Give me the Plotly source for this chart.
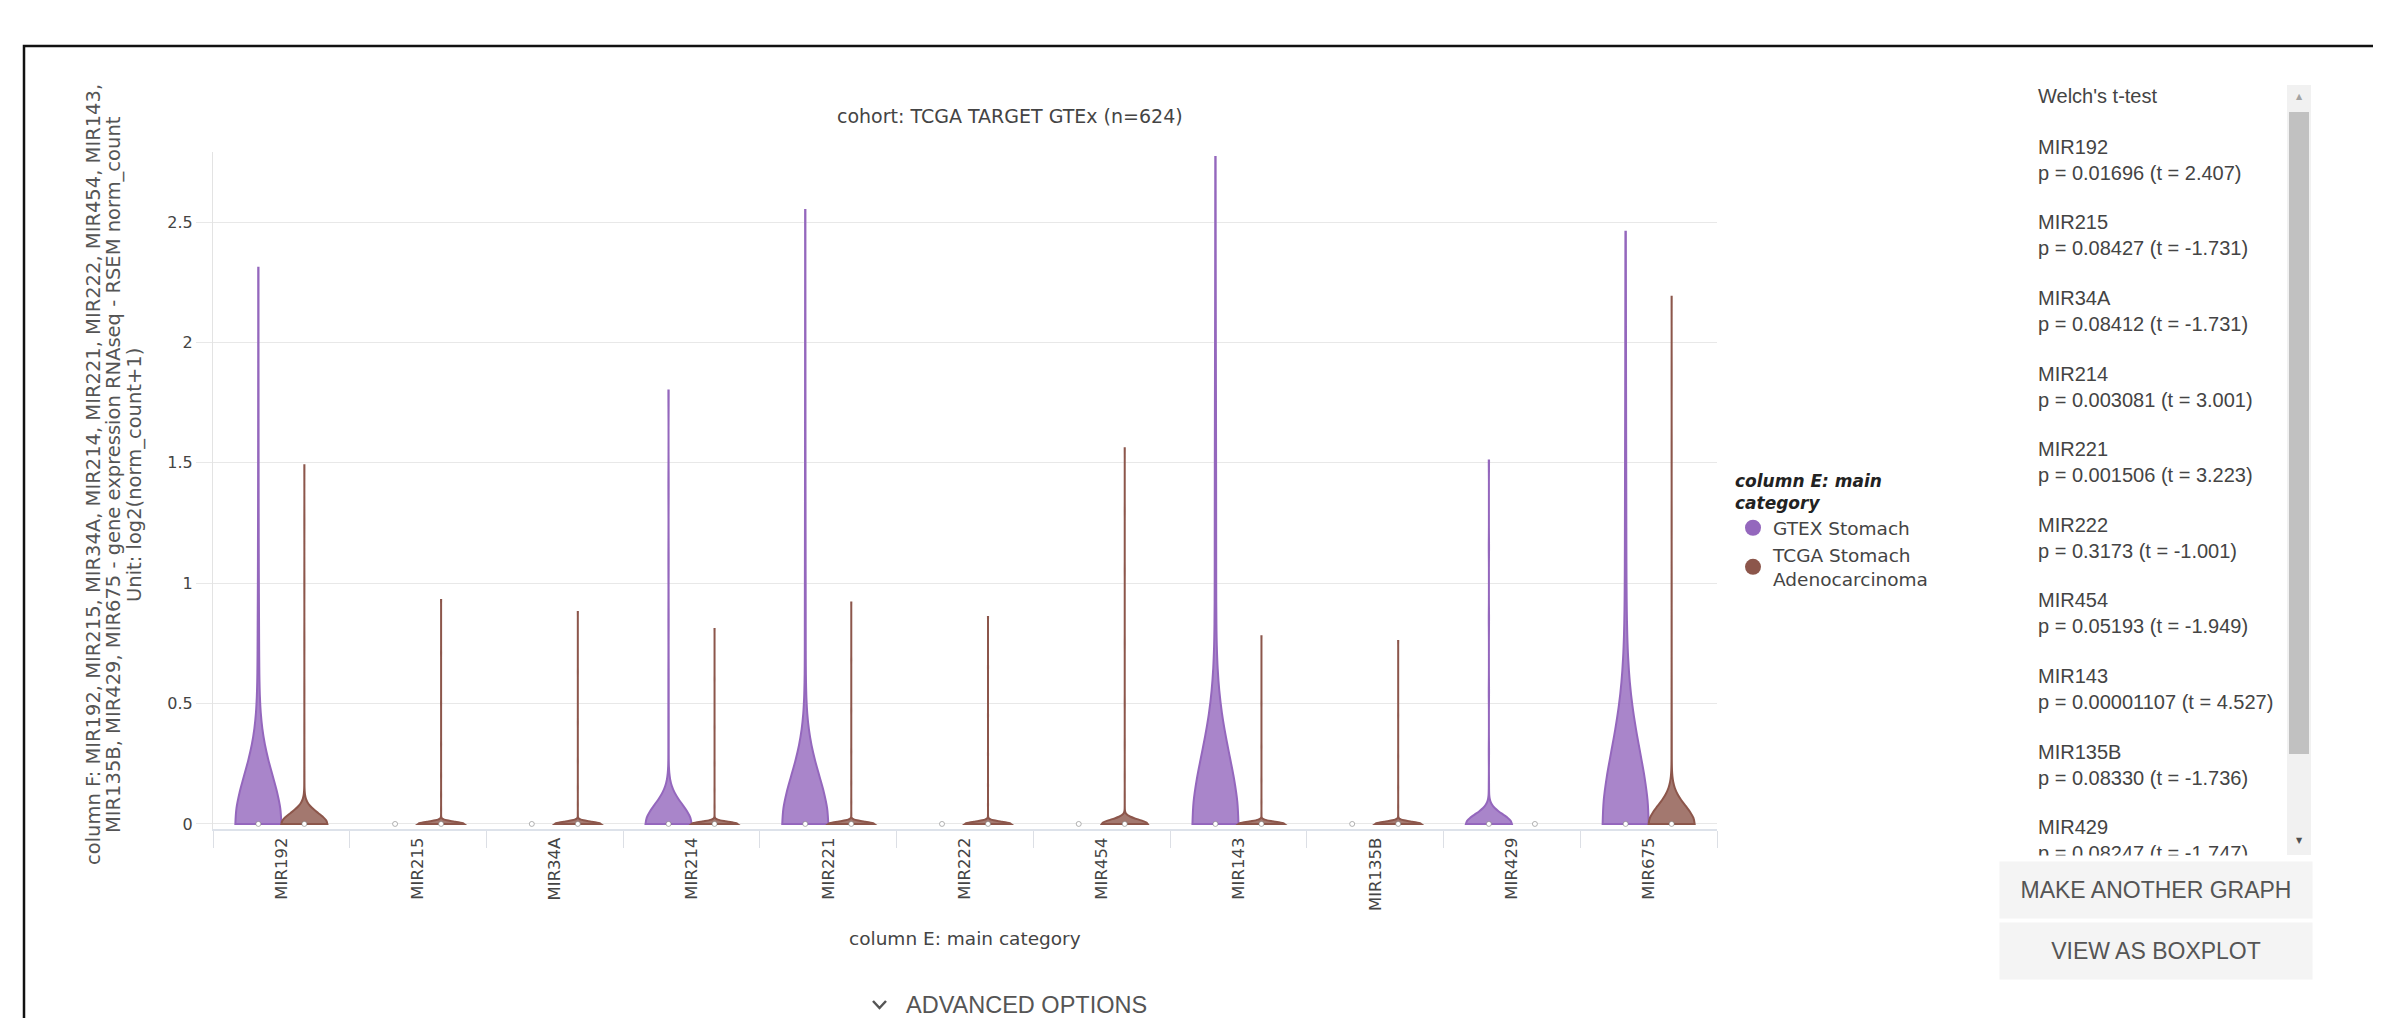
import numpy as np
import plotly.graph_objects as go

# page size and the browser's default body margin
W, H = 2381, 1026
PAD = 8
FW, FH = W - 2 * PAD, H - 2 * PAD

# ---------------- data ----------------
GENES = ["MIR192", "MIR215", "MIR34A", "MIR214", "MIR221", "MIR222",
         "MIR454", "MIR143", "MIR135B", "MIR429", "MIR675"]
GTEX_NAME = "GTEX Stomach"
TCGA_NAME = "TCGA Stomach Adenocarcinoma"

# number of samples at exactly 0 per gene
GTEX_ZEROS = [160, 174, 174, 167, 164, 174, 174, 162, 174, 168, 160]
TCGA_ZEROS = [441, 442, 443, 443, 443, 443, 441, 444, 444, 450, 439]

# positive sample values per gene
GTEX_MIR192 = [0.25, 0.33, 0.4, 0.47, 0.55, 0.62, 0.7, 0.8, 0.9, 1.05, 1.25, 1.5, 1.85, 2.31]
GTEX_MIR215 = []
GTEX_MIR34A = []
GTEX_MIR214 = [0.3, 0.45, 0.62, 0.85, 1.1, 1.4, 1.8]
GTEX_MIR221 = [0.42, 0.55, 0.7, 0.85, 1.0, 1.2, 1.45, 1.75, 2.1, 2.55]
GTEX_MIR222 = []
GTEX_MIR454 = []
GTEX_MIR143 = [0.65, 0.78, 0.9, 1.02, 1.15, 1.3, 1.45, 1.6, 1.75, 2.0, 2.3, 2.77]
GTEX_MIR135B = []
GTEX_MIR429 = [0.15, 0.3, 0.55, 0.85, 1.15, 1.51]
GTEX_MIR675 = [0.35, 0.45, 0.55, 0.62, 0.7, 0.8, 0.95, 1.1, 1.25, 1.4, 1.55, 1.8, 2.1, 2.46]

TCGA_MIR192 = [0.15, 0.2, 0.28, 0.4, 0.55, 0.75, 1.0, 1.25, 1.49]
TCGA_MIR215 = [0.03, 0.06, 0.12, 0.2, 0.33, 0.5, 0.71, 0.93]
TCGA_MIR34A = [0.04, 0.08, 0.15, 0.26, 0.42, 0.63, 0.88]
TCGA_MIR214 = [0.03, 0.07, 0.14, 0.25, 0.4, 0.6, 0.81]
TCGA_MIR221 = [0.04, 0.09, 0.17, 0.3, 0.47, 0.68, 0.92]
TCGA_MIR222 = [0.03, 0.08, 0.16, 0.29, 0.45, 0.65, 0.86]
TCGA_MIR454 = [0.07, 0.12, 0.2, 0.33, 0.5, 0.75, 1.05, 1.3, 1.56]
TCGA_MIR143 = [0.04, 0.09, 0.18, 0.32, 0.5, 0.78]
TCGA_MIR135B = [0.03, 0.07, 0.15, 0.28, 0.45, 0.76]
TCGA_MIR429 = []
TCGA_MIR675 = [0.25, 0.3, 0.38, 0.47, 0.6, 0.8, 1.0, 1.25, 1.55, 1.85, 2.19]

GTEX_POSITIVE = [GTEX_MIR192, GTEX_MIR215, GTEX_MIR34A, GTEX_MIR214, GTEX_MIR221, GTEX_MIR222,
                 GTEX_MIR454, GTEX_MIR143, GTEX_MIR135B, GTEX_MIR429, GTEX_MIR675]
TCGA_POSITIVE = [TCGA_MIR192, TCGA_MIR215, TCGA_MIR34A, TCGA_MIR214, TCGA_MIR221, TCGA_MIR222,
                 TCGA_MIR454, TCGA_MIR143, TCGA_MIR135B, TCGA_MIR429, TCGA_MIR675]

# KDE bandwidth per violin (None = all values identical)
GTEX_BANDWIDTH = [0.2, None, None, 0.08, 0.2, None, None, 0.285, None, 0.04, 0.3]
TCGA_BANDWIDTH = [0.045, 0.009, 0.009, 0.009, 0.009, 0.009, 0.018, 0.009, 0.009, None, 0.075]

# Welch's t-test panel
WELCH_GENES = ["MIR192", "MIR215", "MIR34A", "MIR214", "MIR221", "MIR222",
               "MIR454", "MIR143", "MIR135B", "MIR429"]
WELCH_P = ["0.01696", "0.08427", "0.08412", "0.003081", "0.001506", "0.3173",
           "0.05193", "0.00001107", "0.08330", "0.08247"]
WELCH_T = ["2.407", "-1.731", "-1.731", "3.001", "3.223", "-1.001",
           "-1.949", "4.527", "-1.736", "-1.747"]

Y_TITLE_LINES = [
    "column F: MIR192, MIR215, MIR34A, MIR214, MIR221, MIR222, MIR454, MIR143,",
    "MIR135B, MIR429, MIR675 - gene expression RNAseq - RSEM norm_count",
    "Unit: log2(norm_count+1)",
]

# ---------------- styles ----------------
GTEX_COLOR = "#9467bd"
GTEX_FILL = "rgba(148,103,189,0.8)"
TCGA_COLOR = "#8c564b"
TCGA_FILL = "rgba(140,86,75,0.8)"
PLOT_FONT = "DejaVu Sans"
PANEL_FONT = "Liberation Sans"
VIOLIN_GAP = 0.327
OFFSET = 0.25 * (1 - VIOLIN_GAP)


def fx(p):
    return (p - PAD) / FW


def fy(p):
    return 1 - (p - PAD) / FH


def samples(zeros, positive):
    return np.concatenate([np.zeros(zeros), np.asarray(positive, dtype=float)])


fig = go.Figure()

groups = [
    (GTEX_NAME, GTEX_COLOR, GTEX_FILL, GTEX_ZEROS, GTEX_POSITIVE, GTEX_BANDWIDTH, -OFFSET),
    (TCGA_NAME, TCGA_COLOR, TCGA_FILL, TCGA_ZEROS, TCGA_POSITIVE, TCGA_BANDWIDTH, OFFSET),
]

for name, color, fill, zeros, positive, bws, off in groups:
    medians = []
    for gene, z, pos, bw in zip(GENES, zeros, positive, bws):
        y = samples(z, pos)
        medians.append(float(np.median(y)))
        degenerate = y.min() == y.max()
        kw = {} if bw is None else {"bandwidth": bw}
        fig.add_trace(go.Violin(
            x=[gene] * len(y), y=y, name=name, legendgroup=name, showlegend=False,
            offsetgroup=name, alignmentgroup="all", scalegroup=name + "|" + gene,
            scalemode="width", spanmode="hard", points=False,
            line=dict(color=color, width=0 if degenerate else 2),
            fillcolor=fill, hoverinfo="skip", **kw))
    # median markers
    fig.add_trace(go.Scatter(
        x=np.arange(len(GENES)) + off, y=medians, xaxis="x2", yaxis="y",
        mode="markers", showlegend=False, hoverinfo="skip",
        marker=dict(size=5, color="white", line=dict(color="rgba(120,120,120,0.55)", width=1))))

# legend entries (circle markers)
fig.add_trace(go.Scatter(x=[None], y=[None], xaxis="x2", mode="markers", name=GTEX_NAME,
                         legendgroup=GTEX_NAME, marker=dict(color=GTEX_COLOR, size=16)))
fig.add_trace(go.Scatter(x=[None], y=[None], xaxis="x2", mode="markers",
                         name="TCGA Stomach<br>Adenocarcinoma",
                         legendgroup=TCGA_NAME, marker=dict(color=TCGA_COLOR, size=16)))


def note(text, x, y, size, color="#444", family=PLOT_FONT, xanchor="center",
         yanchor="middle", **kw):
    d = dict(text=text, x=fx(x), y=fy(y), xref="paper", yref="paper", showarrow=False,
             xanchor=xanchor, yanchor=yanchor,
             font=dict(family=family, size=size, color=color))
    d.update(kw)
    return d


annotations = [
    note("cohort: TCGA TARGET GTEx (n=624)", 1010, 116, 19),
    note("column E: main category", 965, 938, 18.5),
]
for k, (line, xc) in enumerate(zip(Y_TITLE_LINES, [94, 114, 135])):
    annotations.append(note(line, xc, 475, 19.5, color="#555", textangle=-90))

# Welch panel
annotations.append(note("Welch's t-test", 2036, 96, 20, family=PANEL_FONT, xanchor="left"))
for i, (g, p, t) in enumerate(zip(WELCH_GENES, WELCH_P, WELCH_T)):
    yc = 147 + 75.6 * i + 12.9
    annotations.append(note(f"{g}<br>p = {p} (t = {t})", 2036, yc, 20, family=PANEL_FONT,
                            xanchor="left", align="left"))
# clip the list at the bottom of the panel
annotations.append(note(" ", 2020, 855, 4, xanchor="left", yanchor="top", width=265, height=16,
                        bgcolor="white", borderpad=0))
# scrollbar arrows
annotations.append(note("▲", 2299, 97, 8, color="#a3a3a3"))
annotations.append(note("▼", 2299, 840, 8, color="#505050"))
# buttons
for label, yc in [("MAKE ANOTHER GRAPH", 890), ("VIEW AS BOXPLOT", 950.5)]:
    annotations.append(note(label, 2156, yc, 23, color="#555", family=PANEL_FONT,
                            width=312, height=56, bgcolor="#f4f4f4", borderpad=0))
# advanced options
annotations.append(note("ADVANCED OPTIONS", 1026, 1005, 23.5, color="#555", family=PANEL_FONT))

shapes = [
    # page frame
    dict(type="rect", xref="paper", yref="paper", x0=fx(24), x1=fx(2440), y0=fy(46), y1=fy(1080),
         line=dict(color="#111", width=2.5), fillcolor="rgba(0,0,0,0)", layer="below"),
    # scrollbar
    dict(type="rect", xref="paper", yref="paper", x0=fx(2287), x1=fx(2311), y0=fy(85), y1=fy(855),
         line=dict(width=0), fillcolor="#f1f1f1"),
    dict(type="rect", xref="paper", yref="paper", x0=fx(2289), x1=fx(2309), y0=fy(112), y1=fy(754),
         line=dict(width=0), fillcolor="#c1c1c1"),
    # chevron
    dict(type="path", xref="paper", yref="paper",
         path=f"M {fx(873)} {fy(1001)} L {fx(879.5)} {fy(1008)} L {fx(886)} {fy(1001)}",
         line=dict(color="#555", width=2.5)),
]

fig.update_layout(
    width=FW, height=FH,
    margin=dict(l=0, r=0, t=0, b=0, autoexpand=False),
    paper_bgcolor="white", plot_bgcolor="white",
    font=dict(family=PLOT_FONT, color="#444"),
    violinmode="group", violingap=VIOLIN_GAP, violingroupgap=0,
    hovermode=False,
    showlegend=True,
    legend=dict(x=fx(1733), y=fy(465), xanchor="left", yanchor="top",
                title=dict(text="<b><i>column E: main<br>category</i></b>",
                           font=dict(family=PLOT_FONT, size=17, color="#222")),
                font=dict(family=PLOT_FONT, size=18.5, color="#444"),
                bgcolor="rgba(0,0,0,0)", itemsizing="trace", tracegroupgap=0),
    xaxis=dict(domain=[fx(213), fx(1717)], type="category", categoryorder="array",
               categoryarray=GENES, range=[-0.5, 10.5], tickson="boundaries",
               ticks="outside", ticklen=17, tickcolor="#dcdfe5", tickangle=-90,
               tickfont=dict(family=PLOT_FONT, size=16.5, color="#444"),
               showline=True, linecolor="#dde2ea", linewidth=2, showgrid=False,
               zeroline=False, anchor="y", fixedrange=True),
    xaxis2=dict(overlaying="x", range=[-0.5, 10.5], visible=False, anchor="y", fixedrange=True),
    yaxis=dict(domain=[fy(829), fy(152)], range=[-0.021, 2.791], dtick=0.5, tick0=0,
               showgrid=True, gridcolor="#e8e8e8", zeroline=True, zerolinecolor="#e8e8e8",
               zerolinewidth=1, showline=True, linecolor="#e3e3e3", ticks="outside",
               ticklen=16, tickcolor="#e8e8e8",
               tickfont=dict(family=PLOT_FONT, size=16, color="#444"), fixedrange=True),
    annotations=annotations,
    shapes=shapes,
)

fig.write_html("out.html", config={"displayModeBar": False})
